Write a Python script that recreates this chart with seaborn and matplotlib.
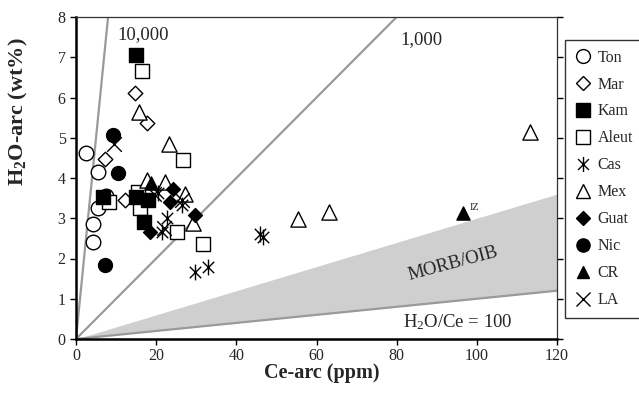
import numpy as np
import matplotlib
matplotlib.use("Agg")
import matplotlib.pyplot as plt
import matplotlib.path as mpath
from matplotlib.lines import Line2D
import seaborn as sns

# ---------------- data ----------------
ton_x = [2.5, 5.5, 7.5, 5.5, 4.2, 4.2]
ton_y = [4.63, 4.15, 3.55, 3.25, 2.86, 2.41]
mar_x = [14.8, 17.8, 7.3, 12.2]
mar_y = [6.1, 5.37, 4.47, 3.45]
kam_x = [15.0, 6.7, 15.0, 18.0, 17.0]
kam_y = [7.05, 3.52, 3.52, 3.45, 2.9]
aleut_x = [16.5, 26.7, 8.2, 15.5, 16.0, 25.2, 31.7]
aleut_y = [6.65, 4.45, 3.4, 3.65, 3.25, 2.66, 2.35]
cas_x = [45.8, 46.7, 29.7, 33.0, 22.8, 21.4, 26.4, 20.5]
cas_y = [2.62, 2.54, 1.66, 1.78, 3.0, 2.66, 3.33, 3.62]
mex_x = [113.3, 63.1, 55.4, 15.7, 23.2, 17.7, 22.2, 27.2, 29.2]
mex_y = [5.15, 3.15, 2.97, 5.64, 4.85, 3.95, 3.9, 3.6, 2.88]
guat_x = [24.2, 23.4, 29.7, 18.5]
guat_y = [3.72, 3.4, 3.08, 2.66]
nic_x = [9.2, 10.5, 7.2]
nic_y = [5.07, 4.12, 1.85]
cr_x = [18.7, 96.5]
cr_y = [3.88, 3.13]
la_x = [9.5, 19.5, 22.0, 26.5]
la_y = [4.85, 3.6, 2.75, 3.45]

ratio_lines = [10000, 1000, 100]       # H2O/Ce
morb_band = (100, 300)                 # H2O/Ce range of MORB/OIB field
x_ticks = [0, 20, 40, 60, 80, 100, 120]
y_ticks = [0, 1, 2, 3, 4, 5, 6, 7, 8]

# ---------------- style ----------------
sns.set_style("white")
plt.rcParams["font.family"] = ["Liberation Serif", "DejaVu Serif"]
plt.rcParams["mathtext.fontset"] = "custom"
plt.rcParams["mathtext.rm"] = "Liberation Serif"
plt.rcParams["mathtext.it"] = "Liberation Serif:italic"
plt.rcParams["mathtext.bf"] = "Liberation Serif:bold"

fig = plt.figure(figsize=(6.39, 4.09), dpi=100)
ax = fig.add_axes([76/639, 1 - 339/409, (557-76)/639, (339-17)/409])

# ratio lines & MORB field
xx = np.linspace(0, 120, 200)
ax.fill_between(xx, xx*morb_band[0]/1e4, xx*morb_band[1]/1e4, color="#cfcfcf", lw=0, zorder=1)
for r in ratio_lines:
    ax.plot(xx, xx*r/1e4, color="#9a9a9a", lw=1.6, zorder=2)

asterisk = mpath.Path([(0, -1), (0, 1), (-0.72, -0.72), (0.72, 0.72), (-0.72, 0.72), (0.72, -0.72)],
                      [1, 2, 1, 2, 1, 2])

series = [
    # label, x, y, marker, face, size
    ("Ton", ton_x, ton_y, "o", "white", 110),
    ("Mar", mar_x, mar_y, "D", "white", 55),
    ("Kam", kam_x, kam_y, "s", "black", 100),
    ("Aleut", aleut_x, aleut_y, "s", "white", 110),
    ("Cas", cas_x, cas_y, asterisk, "black", 130),
    ("Mex", mex_x, mex_y, "^", "white", 120),
    ("Guat", guat_x, guat_y, "D", "black", 50),
    ("Nic", nic_x, nic_y, "o", "black", 100),
    ("CR", cr_x, cr_y, "^", "black", 90),
    ("LA", la_x, la_y, "x", "black", 110),
]
draw_order = ["Ton", "Mar", "Aleut", "Mex", "Kam", "Guat", "Nic", "CR", "Cas", "LA"]
sdict = {s[0]: s for s in series}
for z, name in enumerate(draw_order):
    lab, x, y, m, face, s = sdict[name]
    sns.scatterplot(x=x, y=y, marker=m, s=s, color=face, edgecolor="black",
                    linewidth=1.0, ax=ax, legend=False, zorder=3 + z)

# annotations
ax.text(16.8, 7.56, "10,000", fontsize=13.5, ha="center", va="center")
ax.text(86.3, 7.45, "1,000", fontsize=13.5, ha="center", va="center")
ax.text(94.0, 1.88, "MORB/OIB", fontsize=13.5, ha="center", va="center", rotation=15)
ax.text(95.3, 0.42, r"H$_2$O/Ce = 100", fontsize=13.5, ha="center", va="center")
ax.text(98.3, 3.27, "IZ", fontsize=7.5, ha="left", va="center")

# axes
ax.set_xlim(0, 120)
ax.set_ylim(0, 8)
ax.set_xticks(x_ticks)
ax.set_yticks(y_ticks)
ax.tick_params(axis="both", labelsize=11.5, direction="out", length=4, width=1, color="black",
               left=True, bottom=True, right=True, labelright=False)
ax.tick_params(axis="x", pad=2.5)
for sp in ["left", "bottom"]:
    ax.spines[sp].set_linewidth(1.8)
    ax.spines[sp].set_color("black")
for sp in ["top", "right"]:
    ax.spines[sp].set_linewidth(0.9)
    ax.spines[sp].set_color("#333333")

ax.set_xlabel("Ce-arc (ppm)", fontsize=14.5, fontweight="bold")
ax.set_ylabel(r"H$_\mathbf{2}$O-arc (wt%)", fontsize=16, fontweight="bold")
ax.xaxis.set_label_coords(0.511, -0.074)
ax.yaxis.set_label_coords(-0.096, 0.705)

# legend
handles = []
for lab, x, y, m, face, s in series:
    ms = np.sqrt(s) * 0.95
    if m in ("x",) or m is asterisk:
        h = Line2D([], [], ls="", marker=m, markersize=ms, markeredgecolor="black",
                   markerfacecolor="none", markeredgewidth=1.0)
    else:
        h = Line2D([], [], ls="", marker=m, markersize=ms, markeredgecolor="black",
                   markerfacecolor=face, markeredgewidth=1.0)
    handles.append(h)
leg = fig.legend(handles, [s[0] for s in series], loc="upper left",
                 bbox_to_anchor=(565/639, 1 - 40/409), fontsize=11.5, frameon=True,
                 fancybox=False, edgecolor="black", handlelength=1.0, handletextpad=0.45,
                 labelspacing=0.686, borderpad=0.6, borderaxespad=0)
leg.get_frame().set_linewidth(1.0)

fig.savefig("out.png", dpi=100)
